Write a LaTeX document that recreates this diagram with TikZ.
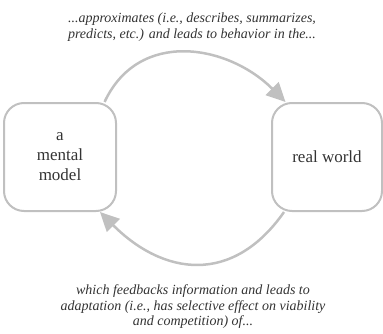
\documentclass[tikz,border=0pt]{standalone}
\usepackage{fontspec}
\setmainfont{Liberation Serif}
\newfontfamily\termsfont{Liberation Serif}
\usetikzlibrary{arrows.meta}

\definecolor{boxgray}{HTML}{C0C0C0}
\definecolor{textgray}{HTML}{333333}

\tikzset{
	box/.style={draw=boxgray, line width=2pt, rounded corners=20pt, minimum width=110pt, minimum height=108pt, align=center, font=\termsfont\fontsize{17}{20}\selectfont, text=textgray},
	feedarrow/.style={draw=boxgray, line width=2.5pt, -{Triangle[length=19pt,width=18pt]}},
	note/.style={align=center, font=\termsfont\itshape\fontsize{14}{15.5}\selectfont, text=textgray}
}

\begin{document}
\begin{tikzpicture}[x=1pt,y=1pt]
		\useasboundingbox (0,0) rectangle (383,333);
	
		\node[box, minimum width=112pt] (model) at (60,176) {a\\mental\\model};
		\node[box] (world) at (327,176) {real world};
		
		\node[note] (above) at (192,306) {...approximates (i.e., describes, summarizes,\\predicts, etc.) and leads to behavior in the...};
		\node[note] (below) at (193,26) {which feedbacks information and leads to\\adaptation (i.e., has selective effect on viability\\and competition) of...};
		
		\draw [feedarrow] (model.51) to[out=65,in=135,looseness=1.15] (world.127);
		\draw [feedarrow] (world.-128) to[out=-125,in=-45,looseness=1.25] (model.-54);
	\end{tikzpicture}
\end{document}
